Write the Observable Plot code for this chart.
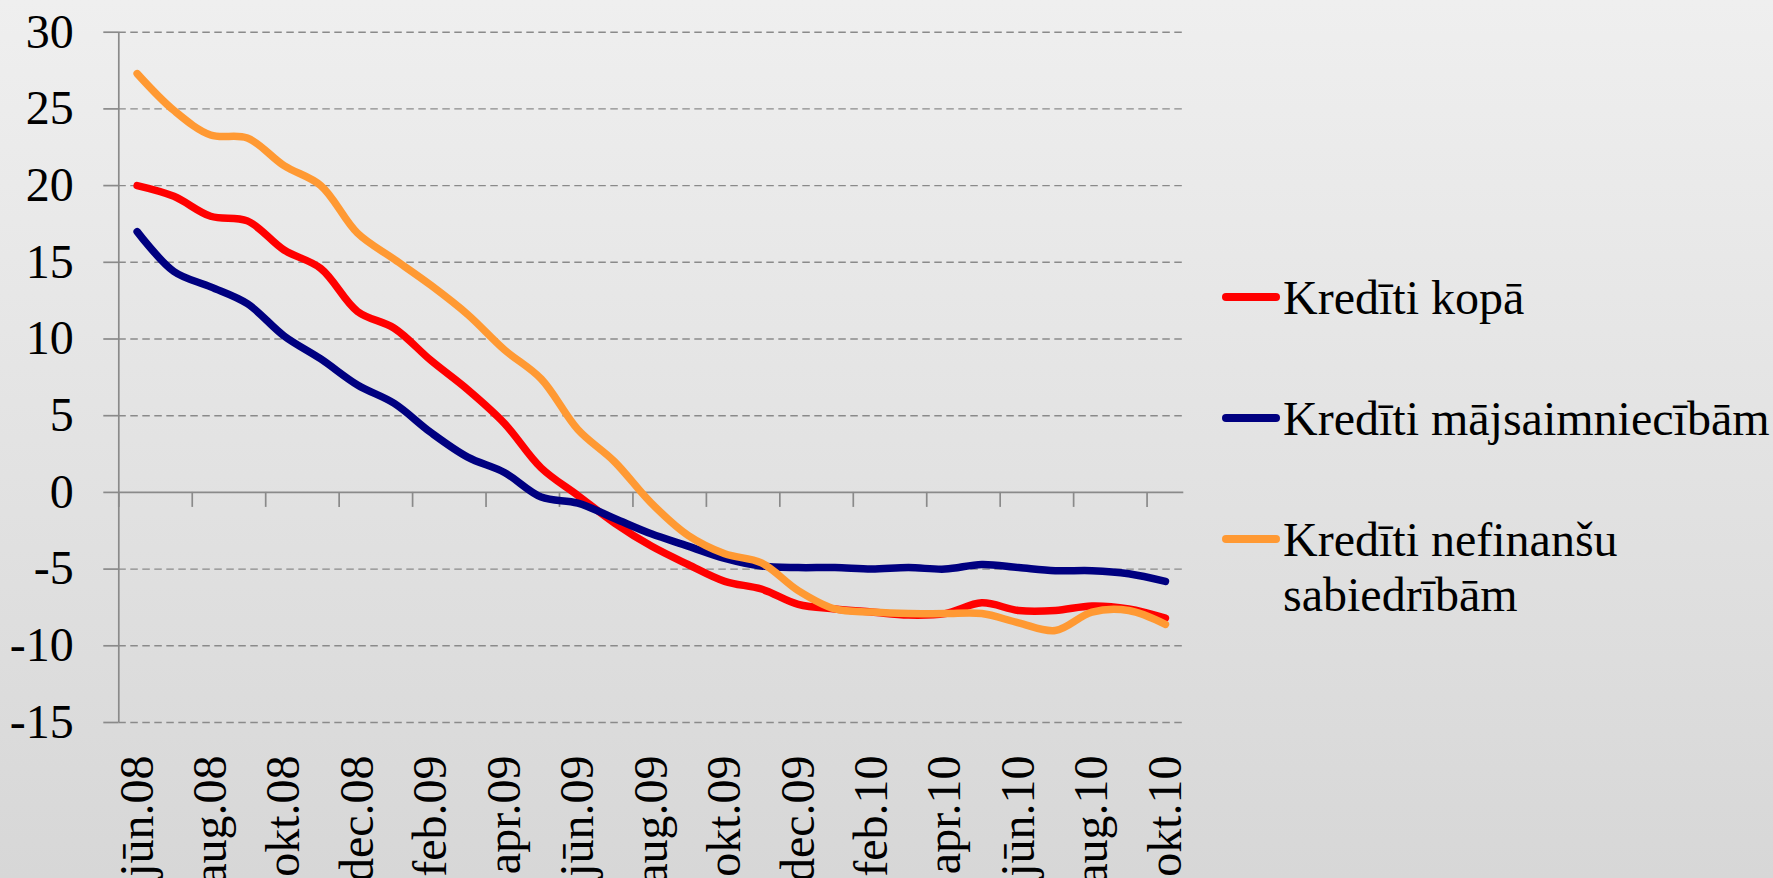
<!DOCTYPE html>
<html><head><meta charset="utf-8">
<script src="https://cdn.jsdelivr.net/npm/d3@7"></script>
<script src="https://cdn.jsdelivr.net/npm/@observablehq/plot@0.6"></script>
<style>
html,body{margin:0;padding:0;}
body{width:1773px;height:878px;overflow:hidden;background:linear-gradient(#efefef,#d7d7d7);}
#wrap{position:relative;width:1773px;height:878px;}
#chart{position:absolute;left:0;top:0;}
#legend{position:absolute;left:1222px;top:0;}
.sw{position:absolute;left:0;width:58px;height:8px;border-radius:4px;}
.lab{position:absolute;left:61px;line-height:55px;white-space:pre;color:#000;}
</style></head><body><div id="wrap"><div id="chart"></div><div id="legend"></div></div>
<script>
const months = ["jūn.08","jūl.08","aug.08","sep.08","okt.08","nov.08","dec.08","jan.09","feb.09","mar.09","apr.09","mai.09","jūn.09","jūl.09","aug.09","sep.09","okt.09","nov.09","dec.09","jan.10","feb.10","mar.10","apr.10","mai.10","jūn.10","jūl.10","aug.10","sep.10","okt.10"];
const kreditiKopa = [20.0,19.3,18.0,17.7,15.8,14.6,11.8,10.7,8.6,6.7,4.5,1.6,-0.2,-2.0,-3.5,-4.7,-5.8,-6.3,-7.3,-7.6,-7.8,-8.0,-7.9,-7.2,-7.7,-7.7,-7.4,-7.6,-8.2];
const kreditiMajsaimniecibam = [17.0,14.4,13.4,12.3,10.2,8.7,7.0,5.8,3.9,2.3,1.3,-0.3,-0.7,-1.7,-2.7,-3.5,-4.3,-4.8,-4.9,-4.9,-5.0,-4.9,-5.0,-4.7,-4.9,-5.1,-5.1,-5.3,-5.8];
const kreditiNefinansu = [27.3,24.9,23.3,23.1,21.3,20.0,16.9,15.2,13.5,11.6,9.3,7.4,4.1,2.0,-0.7,-2.8,-4.0,-4.6,-6.4,-7.6,-7.8,-7.9,-7.9,-7.9,-8.5,-9.0,-7.8,-7.7,-8.6];
const seriesNames = ["Kredīti kopā","Kredīti mājsaimniecībām","Kredīti nefinanšu\nsabiedrībām"];
const seriesColors = ["#ff0000","#000080","#ff9933"];
const seriesValues = [kreditiKopa, kreditiMajsaimniecibam, kreditiNefinansu];
const yTicks = [-15,-10,-5,0,5,10,15,20,25,30];

// pick an installed serif font (Times-like if available)
const ctx = document.createElement("canvas").getContext("2d");
const probe = "Kredīti mājsaimniecībām 0123456789";
function width(font) { ctx.font = font; return ctx.measureText(probe).width; }
const candidates = ["Liberation Serif","Times New Roman","Tinos","Nimbus Roman","Noto Serif","DejaVu Serif"];
let fam = "serif";
for (const f of candidates) {
  if (Math.abs(width(`48px "${f}", monospace`) - width("48px monospace")) > 0.5) { fam = f; break; }
}
const fontFamily = `"${fam}", serif`;
ctx.font = `48px ${fontFamily}`;
const legW = ctx.measureText("Kredīti mājsaimniecībām").width;
const fs = Math.min(48, 48 * 487 / legW);

const data = [];
seriesNames.forEach((name, s) => seriesValues[s].forEach((v, i) => data.push({i, month: months[i], name, value: v})));
const xDomain = [-0.5, months.length - 0.5];
const boundaries = d3.range(xDomain[0], months.length - 1, 2);
const labelIdx = d3.range(0, months.length, 2);
const gray = "#8a8a8a";

const chart = Plot.plot({
  width: 1773, height: 878,
  marginLeft: 118.3, marginRight: 589.7, marginTop: 31.7, marginBottom: 156,
  style: {background: "transparent", fontFamily: fontFamily, fontSize: fs + "px", color: "#000", overflow: "visible"},
  x: {domain: xDomain},
  y: {domain: [yTicks[0], yTicks[yTicks.length - 1]]},
  color: {domain: seriesNames, range: seriesColors},
  marks: [
    Plot.ruleY(yTicks.filter(v => v !== 0), {stroke: gray, strokeWidth: 1.4, strokeDasharray: "7.5,4.5"}),
    Plot.ruleY([0], {stroke: gray, strokeWidth: 1.7}),
    Plot.ruleX([xDomain[0]], {stroke: gray, strokeWidth: 1.7}),
    Plot.ruleX(boundaries, {y1: 0, y2: 0, insetBottom: -15, stroke: gray, strokeWidth: 1.7}),
    Plot.line(data, {x: "i", y: "value", z: "name", stroke: "name", strokeWidth: 7.5, curve: "catmull-rom", strokeLinecap: "round", strokeLinejoin: "round"}),
    Plot.axisY({ticks: yTicks, tickSize: 15, tickPadding: 30, stroke: gray, strokeWidth: 1.7, tickFormat: d => String(d), label: null, fontSize: fs}),
    Plot.axisX({ticks: labelIdx, tickFormat: i => months[i], tickSize: 0, tickRotate: -90, tickPadding: 33, label: null, fontSize: fs})
  ]
});
document.getElementById("chart").appendChild(chart);

const legend = document.getElementById("legend");
const lineY = [296.7, 418, 539.3];
seriesNames.forEach((name, k) => {
  const sw = document.createElement("div");
  sw.className = "sw";
  sw.style.top = (lineY[k] - 4) + "px";
  sw.style.background = seriesColors[k];
  legend.appendChild(sw);
  const lab = document.createElement("div");
  lab.className = "lab";
  lab.style.fontFamily = fontFamily;
  lab.style.fontSize = fs + "px";
  lab.style.top = (lineY[k] - 27) + "px";
  lab.textContent = name;
  legend.appendChild(lab);
});
</script>
</body></html>
